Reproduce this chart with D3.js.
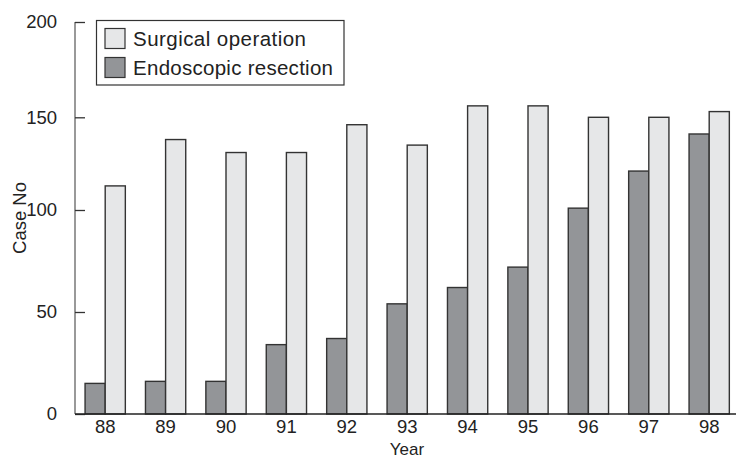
<!DOCTYPE html>
<html>
<head>
<meta charset="utf-8">
<script src="https://cdn.jsdelivr.net/npm/d3@7"></script>
<style>
  body { margin: 0; background: #fff; }
  svg { display: block; font-family: "Liberation Sans", Arial, sans-serif; }
</style>
</head>
<body>
<div id="chart"></div>
<script>
var years = ['88', '89', '90', '91', '92', '93', '94', '95', '96', '97', '98'];
var surgical = [113, 138, 131, 131, 146, 135, 156, 156, 150, 150, 153];
var endoscopic = [15, 16, 16, 34, 37, 54, 62, 72, 101, 121, 141];
var yTicks = [0, 50, 100, 150, 200];
var seriesNames = ['Surgical operation', 'Endoscopic resection'];

var width = 736, height = 459;
var svg = d3.select('#chart').append('svg')
    .attr('width', width)
    .attr('height', height);

var x0 = d3.scaleBand().domain(years).range([75, 739.4])
    .paddingInner(1 / 3).paddingOuter(1 / 6);
var x1 = d3.scaleBand().domain(['endo', 'surg']).range([0, x0.bandwidth()]);
// the scanned figure's axis is not quite evenly spaced
var y = d3.scaleLinear().domain(yTicks).range([414, 312, 210, 117.3, 22]);

// bars
var g = svg.append('g');
years.forEach(function(yr, i) {
    g.append('rect')
        .attr('x', x0(yr) + x1('endo'))
        .attr('y', y(endoscopic[i]))
        .attr('width', x1.bandwidth())
        .attr('height', y(0) - y(endoscopic[i]))
        .attr('fill', '#939598')
        .attr('stroke', '#333')
        .attr('stroke-width', 1.4);
    g.append('rect')
        .attr('x', x0(yr) + x1('surg'))
        .attr('y', y(surgical[i]))
        .attr('width', x1.bandwidth())
        .attr('height', y(0) - y(surgical[i]))
        .attr('fill', '#e6e7e8')
        .attr('stroke', '#333')
        .attr('stroke-width', 1.4);
});

var fontSize = '18.5px';

// y axis
var yAxis = svg.append('g').attr('transform', 'translate(75,0)')
    .call(d3.axisLeft(y).tickValues(yTicks).tickSize(-10).tickPadding(18));
yAxis.select('.domain').attr('stroke', '#777').attr('stroke-width', 1.5)
    .attr('d', 'M0,' + y(200) + 'V' + y(0));
yAxis.selectAll('.tick line').attr('stroke', '#333').attr('stroke-width', 1.3);
yAxis.selectAll('.tick text').attr('font-size', fontSize).attr('fill', '#222')
    .attr('font-family', '"Liberation Sans", Arial, sans-serif');

// x axis
var xAxis = svg.append('g').attr('transform', 'translate(0,' + y(0) + ')')
    .call(d3.axisBottom(x0).tickSize(0).tickPadding(6));
xAxis.select('.domain').attr('stroke', '#222').attr('stroke-width', 1.6)
    .attr('d', 'M75,0H736');
xAxis.selectAll('.tick text').attr('font-size', fontSize).attr('fill', '#222')
    .attr('font-family', '"Liberation Sans", Arial, sans-serif');

// axis titles
svg.append('text')
    .attr('x', 407).attr('y', 455)
    .attr('text-anchor', 'middle')
    .attr('font-size', '17px').attr('fill', '#222')
    .text('Year');
svg.append('text')
    .attr('transform', 'translate(26,218) rotate(-90)')
    .attr('text-anchor', 'middle')
    .attr('font-size', fontSize).attr('fill', '#222')
    .text('Case No');

// legend
var legend = svg.append('g');
legend.append('rect')
    .attr('x', 96.5).attr('y', 20.5).attr('width', 247.5).attr('height', 64.5)
    .attr('fill', '#fff').attr('stroke', '#333').attr('stroke-width', 1.2);
var legendFill = ['#e6e7e8', '#939598'];
seriesNames.forEach(function(name, i) {
    legend.append('rect')
        .attr('x', 105).attr('y', 28.5 + i * 29).attr('width', 20).attr('height', 20)
        .attr('fill', legendFill[i]).attr('stroke', '#333').attr('stroke-width', 1.2);
    legend.append('text')
        .attr('x', 133).attr('y', 46 + i * 29)
        .attr('font-size', '20.5px').attr('fill', '#222')
        .attr('textLength', i === 0 ? 173 : 200)
        .text(name);
});
</script>
</body>
</html>
